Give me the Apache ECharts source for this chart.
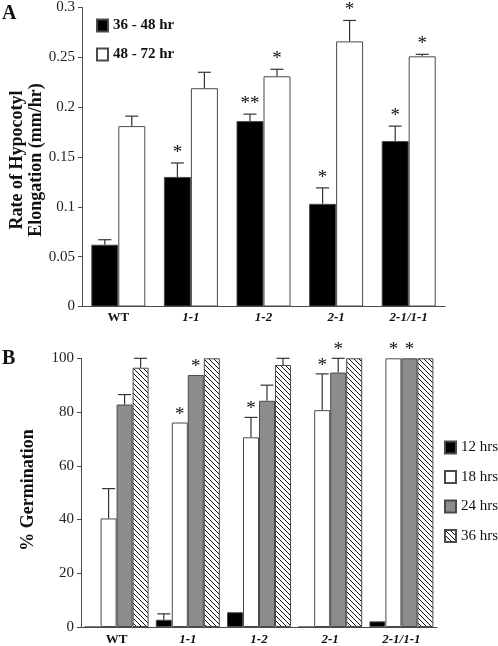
<!DOCTYPE html>
<html><head><meta charset="utf-8">
<script src="https://cdn.jsdelivr.net/npm/echarts@6/dist/echarts.min.js"></script>
<style>html,body{margin:0;padding:0;background:#fff}#c{width:498px;height:646px}</style>
</head><body><div id="c"></div>
<script>
// ---- Data ----
const categories = ['WT', '1-1', '1-2', '2-1', '2-1/1-1'];
// Panel A: rate of hypocotyl elongation (mm/hr)
const aNames = ['36 - 48 hr', '48 - 72 hr'];
const a3648 = [0.062, 0.130, 0.186, 0.103, 0.166];
const a3648Err = [0.005, 0.014, 0.007, 0.016, 0.015];
const a3648Star = ['', '*', '**', '*', '*'];
const a4872 = [0.181, 0.219, 0.231, 0.266, 0.251];
const a4872Err = [0.010, 0.016, 0.007, 0.021, 0.002];
const a4872Star = ['', '', '*', '*', '*'];
const aTicks = [0, 0.05, 0.1, 0.15, 0.2, 0.25, 0.3];
// Panel B: % germination
const bNames = ['12 hrs', '18 hrs', '24 hrs', '36 hrs'];
const b12 = [0, 2.7, 5.5, 0, 2.1];
const b12Err = [0, 2.2, 0, 0, 0];
const b12Star = ['', '', '', '', ''];
const b18 = [40.4, 76.1, 70.6, 80.7, 100];
const b18Err = [11.1, 0, 7.4, 13.5, 0];
const b18Star = ['', '*', '*', '*', '*'];
const b24 = [82.8, 93.8, 84.2, 94.7, 100];
const b24Err = [3.7, 0, 5.8, 5.3, 0];
const b24Star = ['', '*', '', '*', '*'];
const b36 = [96.5, 100, 97.5, 100, 100];
const b36Err = [3.5, 0, 2.5, 0, 0];
const b36Star = ['', '', '', '', ''];
const bTicks = [0, 20, 40, 60, 80, 100];

// ---- Styling ----
const FONT = 'Liberation Serif';
const EDGE = '#4a4a4a';
function hatch() {
  const s = 5, c = document.createElement('canvas');
  c.width = s; c.height = s;
  const g = c.getContext('2d');
  g.fillStyle = '#fff'; g.fillRect(0, 0, s, s);
  g.strokeStyle = '#111'; g.lineWidth = 1;
  g.beginPath();
  g.moveTo(-1, -1); g.lineTo(s + 1, s + 1);
  g.moveTo(-1, s - 1); g.lineTo(1, s + 1);
  g.moveTo(s - 1, -1); g.lineTo(s + 1, 1);
  g.stroke();
  return c;
}
const hatchFill = { image: hatch(), repeat: 'repeat' };

function barSeries(name, values, color, xi, bw) {
  return {
    type: 'bar', name: name, data: values, xAxisIndex: xi, yAxisIndex: xi,
    barWidth: bw, barGap: '0%',
    itemStyle: { color: color, borderColor: EDGE, borderWidth: 1 },
    emphasis: { disabled: true }, animation: false
  };
}
function errSeries(values, errs, stars, idx, n, xi, bw, starGap) {
  const data = values.map((v, i) => [i, v, errs[i], stars[i]]);
  return {
    type: 'custom', name: 'err' + xi + '_' + idx, xAxisIndex: xi, yAxisIndex: xi,
    data: data, encode: { x: 0, y: 1 }, animation: false, silent: true, clip: false,
    renderItem: function (params, api) {
      const ci = api.value(0), v = api.value(1), e = api.value(2);
      const star = data[params.dataIndex][3];
      const off = (idx - (n - 1) / 2) * bw;
      const base = api.coord([ci, v]);
      const x = base[0] + off;
      const top = api.coord([ci, v + e])[1];
      const children = [];
      if (e > 0) {
        children.push({ type: 'line', shape: { x1: x, y1: base[1], x2: x, y2: top }, style: { stroke: '#333', lineWidth: 1.2 } });
        children.push({ type: 'line', shape: { x1: x - 6.5, y1: top, x2: x + 6.5, y2: top }, style: { stroke: '#333', lineWidth: 1.2 } });
      }
      if (star) {
        children.push({ type: 'text', x: x, y: top - starGap, style: { text: star, font: '19px ' + FONT, fill: '#111', textAlign: 'center', textVerticalAlign: 'middle' } });
      }
      return { type: 'group', children: children };
    }
  };
}
const catLabel = {
  interval: 0, fontFamily: FONT, fontSize: 13, fontWeight: 'bold', color: '#111',
  formatter: v => v === 'WT' ? v : '{it|' + v + '}',
  rich: { it: { fontFamily: FONT, fontSize: 13, fontWeight: 'bold', fontStyle: 'italic', color: '#111' } }
};
const axisLine = { show: true, lineStyle: { color: EDGE, width: 1 } };
const valLabel = { fontFamily: FONT, fontSize: 15, color: '#222', margin: 7 };

const option = {
  animation: false,
  grid: [
    { left: 82, top: 7, width: 363, height: 299.5 },
    { left: 81, top: 358.3, width: 356, height: 270 }
  ],
  xAxis: [
    { type: 'category', gridIndex: 0, data: categories, axisLine: axisLine, axisTick: { show: false }, axisLabel: Object.assign({ margin: 5 }, catLabel) },
    { type: 'category', gridIndex: 1, data: categories, axisLine: axisLine, axisTick: { show: false }, axisLabel: Object.assign({ margin: 6 }, catLabel) }
  ],
  yAxis: [
    { type: 'value', gridIndex: 0, min: aTicks[0], max: aTicks[aTicks.length - 1], interval: 0.05, splitLine: { show: false },
      axisLine: axisLine, axisTick: { show: true, length: 4, lineStyle: { color: EDGE } }, axisLabel: valLabel },
    { type: 'value', gridIndex: 1, min: bTicks[0], max: bTicks[bTicks.length - 1], interval: 20, splitLine: { show: false },
      axisLine: axisLine, axisTick: { show: true, length: 4, lineStyle: { color: EDGE } }, axisLabel: valLabel }
  ],
  legend: [
    { data: aNames, icon: 'rect', orient: 'vertical', left: 96, top: 18, padding: 0, itemWidth: 11, itemHeight: 12, itemGap: 14,
      textStyle: { fontFamily: FONT, fontSize: 15, fontWeight: 'bold', color: '#111' }, selectedMode: false },
    { data: bNames, icon: 'rect', orient: 'vertical', left: 444, top: 440, itemWidth: 11, itemHeight: 12, itemGap: 14.5,
      textStyle: { fontFamily: FONT, fontSize: 15, color: '#111' }, selectedMode: false, padding: 0 }
  ],
  graphic: [
    { type: 'text', left: 2, top: 4, style: { text: 'A', font: 'bold 20px ' + FONT, fill: '#111' } },
    { type: 'text', left: 2, top: 349, style: { text: 'B', font: 'bold 20px ' + FONT, fill: '#111' } },
    { type: 'text', x: 17, y: 160, rotation: Math.PI / 2, style: { text: 'Rate of Hypocotyl', font: 'bold 18px ' + FONT, fill: '#111', textAlign: 'center', textVerticalAlign: 'middle' } },
    { type: 'text', x: 36, y: 160, rotation: Math.PI / 2, style: { text: 'Elongation (mm/hr)', font: 'bold 18px ' + FONT, fill: '#111', textAlign: 'center', textVerticalAlign: 'middle' } },
    { type: 'text', x: 28, y: 490, rotation: Math.PI / 2, style: { text: '% Germination', font: 'bold 18px ' + FONT, fill: '#111', textAlign: 'center', textVerticalAlign: 'middle' } }
  ],
  series: [
    barSeries(aNames[0], a3648, '#000', 0, 27),
    barSeries(aNames[1], a4872, '#fff', 0, 27),
    errSeries(a3648, a3648Err, a3648Star, 0, 2, 0, 27, 10),
    errSeries(a4872, a4872Err, a4872Star, 1, 2, 0, 27, 10),
    barSeries(bNames[0], b12, '#000', 1, 16),
    barSeries(bNames[1], b18, '#fff', 1, 16),
    barSeries(bNames[2], b24, '#8c8c8c', 1, 16),
    barSeries(bNames[3], b36, hatchFill, 1, 16),
    errSeries(b12, b12Err, b12Star, 0, 4, 1, 16, 8),
    errSeries(b18, b18Err, b18Star, 1, 4, 1, 16, 8),
    errSeries(b24, b24Err, b24Star, 2, 4, 1, 16, 8),
    errSeries(b36, b36Err, b36Star, 3, 4, 1, 16, 8)
  ]
};
const chart = echarts.init(document.getElementById('c'), null, { renderer: 'canvas' });
chart.setOption(option);
</script>
</body></html>
